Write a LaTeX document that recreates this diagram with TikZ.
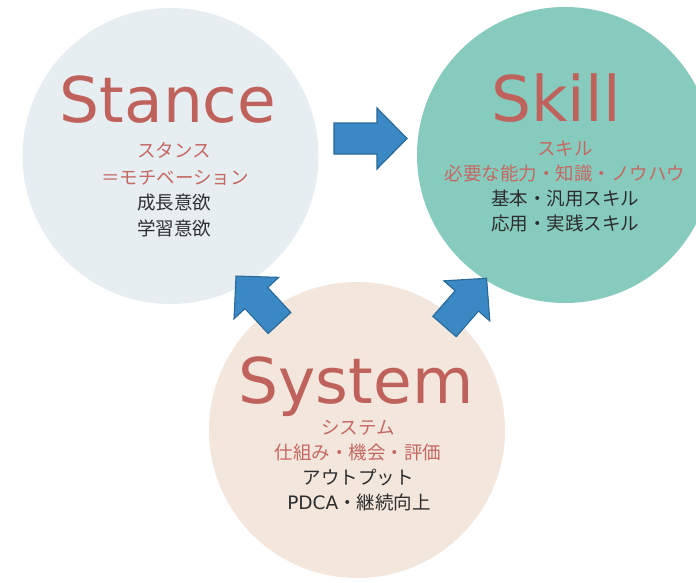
\documentclass[tikz,border=0pt]{standalone}
\usepackage{fontspec}
\newfontfamily\jpfont{Noto Sans CJK JP}
\newfontfamily\titlefont{DejaVu Sans}
\definecolor{stancebg}{RGB}{231,238,242}
\definecolor{skillbg}{RGB}{134,203,190}
\definecolor{systembg}{RGB}{243,230,221}
\definecolor{titlered}{RGB}{192,98,92}
\definecolor{subred}{RGB}{196,104,98}
\definecolor{textdark}{RGB}{45,45,45}
\definecolor{arrowfill}{RGB}{58,136,196}
\definecolor{arrowline}{RGB}{42,104,152}
\newcommand\blockarrow[3]{%
  \begin{scope}[shift={#1},rotate=#2]
    \draw[blockarrowstyle] (0,-15.5) -- ({#3-30},-15.5) -- ({#3-30},-30.5) -- (#3,0)
      -- ({#3-30},30.5) -- ({#3-30},15.5) -- (0,15.5) -- cycle;
  \end{scope}}
\begin{document}
\begin{tikzpicture}[x=1pt,y=-1pt,
  bubble/.style={circle,draw=none,inner sep=0pt,minimum size=296pt},
  titletext/.style={anchor=base,inner sep=0pt,text=titlered,font=\titlefont\fontsize{63}{63}\selectfont},
  redline/.style={anchor=base,inner sep=0pt,text=subred,font=\jpfont\fontsize{18.5}{20}\selectfont},
  darkline/.style={anchor=base,inner sep=0pt,text=textdark,font=\jpfont\fontsize{18.5}{20}\selectfont},
  blockarrowstyle/.style={fill=arrowfill,draw=arrowline,line width=1.1pt,line join=miter}]
\useasboundingbox (0,0) rectangle (696,582);
\fill[white] (0,0) rectangle (696,582);
% circles
\node[bubble,fill=stancebg] (stance) at (170.5,156) {};
\node[bubble,fill=skillbg] (skill) at (565,155) {};
\node[bubble,fill=systembg] (system) at (357,430) {};
% Stance texts
\node[titletext] (stancetitle) at (168,122) {Stance};
\node[redline] (st1) at (174,157) {スタンス};
\node[redline] (st2) at (175,184) {＝モチベーション};
\node[darkline] (st3) at (174,209) {成長意欲};
\node[darkline] (st4) at (174,235) {学習意欲};
% Skill texts
\node[titletext] (skilltitle) at (556,121) {Skill};
\node[redline] (sk1) at (565,155) {スキル};
\node[redline] (sk2) at (565,180) {必要な能力・知識・ノウハウ};
\node[darkline] (sk3) at (565,205) {基本・汎用スキル};
\node[darkline] (sk4) at (565,230) {応用・実践スキル};
% System texts
\node[titletext] (systemtitle) at (356,403) {System};
\node[redline] (sy1) at (358,434) {システム};
\node[redline] (sy2) at (358,459) {仕組み・機会・評価};
\node[darkline] (sy3) at (358,484) {アウトプット};
\node[darkline] (sy4) at (359,509) {{\titlefont PDCA}・継続向上};
% arrows
\coordinate (arrowA) at (334,138.5);
\coordinate (arrowB) at (279.5,323);
\coordinate (arrowC) at (444.5,326.5);
\blockarrow{(arrowA)}{0}{73}
\blockarrow{(arrowB)}{132.8}{64}
\blockarrow{(arrowC)}{48.9}{64}
\end{tikzpicture}
\end{document}
